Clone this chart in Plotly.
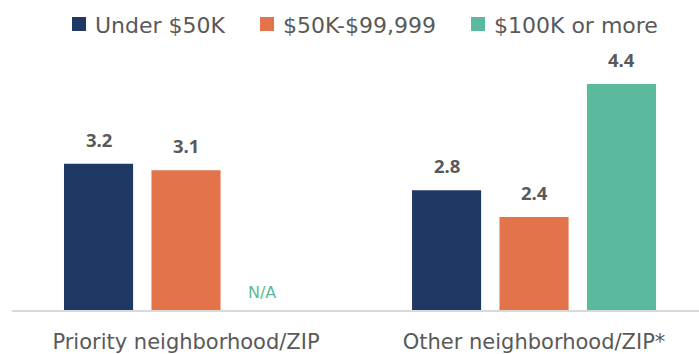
import plotly.graph_objects as go

# Survey values by income bracket and neighborhood type
categories = ["Priority neighborhood/ZIP", "Other neighborhood/ZIP*"]
series_names = ["Under $50K", "$50K-$99,999", "$100K or more"]
under_50k = [3.2, 2.8]
mid_50k_99k = [3.1, 2.4]
over_100k = [None, 4.4]
colors = ["#1F3864", "#E2734A", "#5BBA9D"]

series_values = [under_50k, mid_50k_99k, over_100k]

AXIS_MIN = 1
TEXT_GRAY = "#595959"
FONT = "DejaVu Sans"

W, H = 699, 354
M_L, M_R, M_T, M_B = 12, 0, 44, 44
PLOT_W, PLOT_H = W - M_L - M_R, H - M_T - M_B


def px_to_paper(px, py):
    """Convert a page pixel position to paper coordinates."""
    return (px - M_L) / PLOT_W, (H - M_B - py) / PLOT_H


fig = go.Figure()
for name, vals, col in zip(series_names, series_values, colors):
    # bars rise from the axis minimum, so height is the value above it
    fig.add_trace(go.Bar(
        x=categories,
        y=[None if v is None else v - AXIS_MIN for v in vals],
        base=AXIS_MIN, name=name,
        marker=dict(color=col, line=dict(width=0)),
        hoverinfo="skip",
    ))

# value labels above each bar, "N/A" where there is no value
group_offsets = [-87.5, 0, 87.5]
annotations = []
for vals, dx, col in zip(series_values, group_offsets, colors):
    for cat, v in zip(categories, vals):
        if v is None:
            annotations.append(dict(
                x=cat, y=AXIS_MIN, xref="x", yref="y", text="N/A", showarrow=False,
                xshift=dx - 12, yanchor="bottom", yshift=6,
                font=dict(family=FONT, size=16, color=col),
            ))
        else:
            annotations.append(dict(
                x=cat, y=v, xref="x", yref="y", text=f"<b>{v:.1f}</b>", showarrow=False,
                xshift=dx, yanchor="bottom", yshift=10,
                font=dict(family="Open Sans", size=18.5, color=TEXT_GRAY),
            ))

# legend row across the top: colour swatch followed by its series name
shapes = []
swatch_left = [72, 260, 471]
SWATCH = 14
LEGEND_MID = 24
for name, col, left in zip(series_names, colors, swatch_left):
    x0, y0 = px_to_paper(left, LEGEND_MID + SWATCH / 2)
    x1, y1 = px_to_paper(left + SWATCH, LEGEND_MID - SWATCH / 2)
    shapes.append(dict(type="rect", xref="paper", yref="paper", x0=x0, x1=x1,
                       y0=y0, y1=y1, fillcolor=col, line=dict(width=0)))
    tx, ty = px_to_paper(left + SWATCH + 7, LEGEND_MID + 1)
    annotations.append(dict(x=tx, y=ty, xref="paper", yref="paper", text=name,
                            showarrow=False, xanchor="left", yanchor="middle",
                            font=dict(family=FONT, size=22, color=TEXT_GRAY)))

fig.update_layout(
    width=W, height=H,
    margin=dict(l=M_L, r=M_R, t=M_T, b=M_B),
    paper_bgcolor="white", plot_bgcolor="white",
    barmode="group", bargap=0.246, bargroupgap=0.21,
    font=dict(family=FONT, color=TEXT_GRAY),
    showlegend=False,
    annotations=annotations,
    shapes=shapes,
)
fig.update_xaxes(range=[-0.5, 1.474], showline=True, linecolor="#D9D9D9", linewidth=2,
                 ticks="", tickfont=dict(size=21, color=TEXT_GRAY), showgrid=False,
                 ticklabelstandoff=12)
fig.update_yaxes(range=[AXIS_MIN, 5], visible=False, showgrid=False, zeroline=False)

fig.write_html("out.html")
